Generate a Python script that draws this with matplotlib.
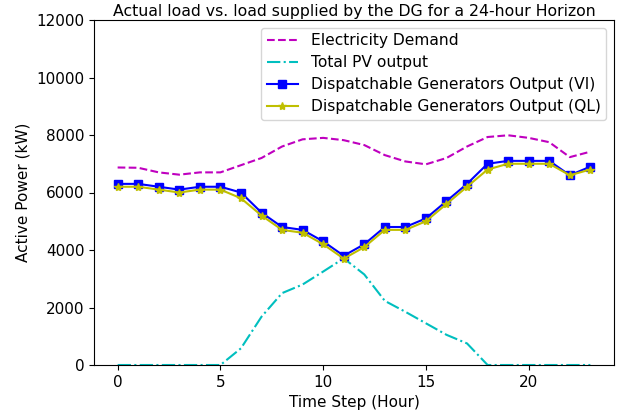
import matplotlib
matplotlib.use("Agg")
import matplotlib.pyplot as plt
import numpy as np

hours = list(range(24))
demand = [6870, 6860, 6700, 6620, 6700, 6700, 6950, 7200, 7600, 7850, 7900, 7820,
          7650, 7300, 7080, 6980, 7200, 7600, 7930, 7990, 7900, 7750, 7230, 7420]
pv = [0, 0, 0, 0, 0, 0, 580, 1680, 2500, 2800, 3250, 3710,
      3150, 2230, 1850, 1450, 1050, 750, 0, 0, 0, 0, 0, 0]
dg_vi = [6300, 6300, 6200, 6100, 6200, 6200, 6000, 5300, 4800, 4700, 4300, 3800,
         4200, 4800, 4800, 5100, 5700, 6300, 7000, 7100, 7100, 7100, 6600, 6900]
dg_ql = [6200, 6200, 6100, 6000, 6100, 6100, 5800, 5200, 4700, 4600, 4200, 3700,
         4100, 4700, 4700, 5000, 5600, 6200, 6800, 7000, 7000, 7000, 6600, 6800]

fig = plt.figure(figsize=(6.22, 4.16), dpi=100)
ax = fig.add_axes([94/622, 51/416, 520/622, 345/416])
ax.plot(hours, demand, 'm--', label='Electricity Demand')
ax.plot(hours, pv, 'c-.', label='Total PV output')
ax.plot(hours, dg_vi, 'b-s', linewidth=1.5, markersize=6, label='Dispatchable Generators Output (VI)')
ax.plot(hours, dg_ql, 'y-*', linewidth=1.5, markersize=6, label='Dispatchable Generators Output (QL)')
ax.set_ylim(0, 12000)
ax.set_xticks([0, 5, 10, 15, 20])
ax.set_xlabel('Time Step (Hour)', fontsize=11)
ax.set_ylabel('Active Power (kW)', fontsize=11)
ax.set_title('Actual load vs. load supplied by the DG for a 24-hour Horizon', fontsize=11.3, pad=3)
ax.tick_params(labelsize=11)
ax.legend(loc='upper right', fontsize=11.2, borderpad=0.35, labelspacing=0.45,
          handletextpad=0.85, borderaxespad=0.5)
fig.savefig('out.png', dpi=100)
